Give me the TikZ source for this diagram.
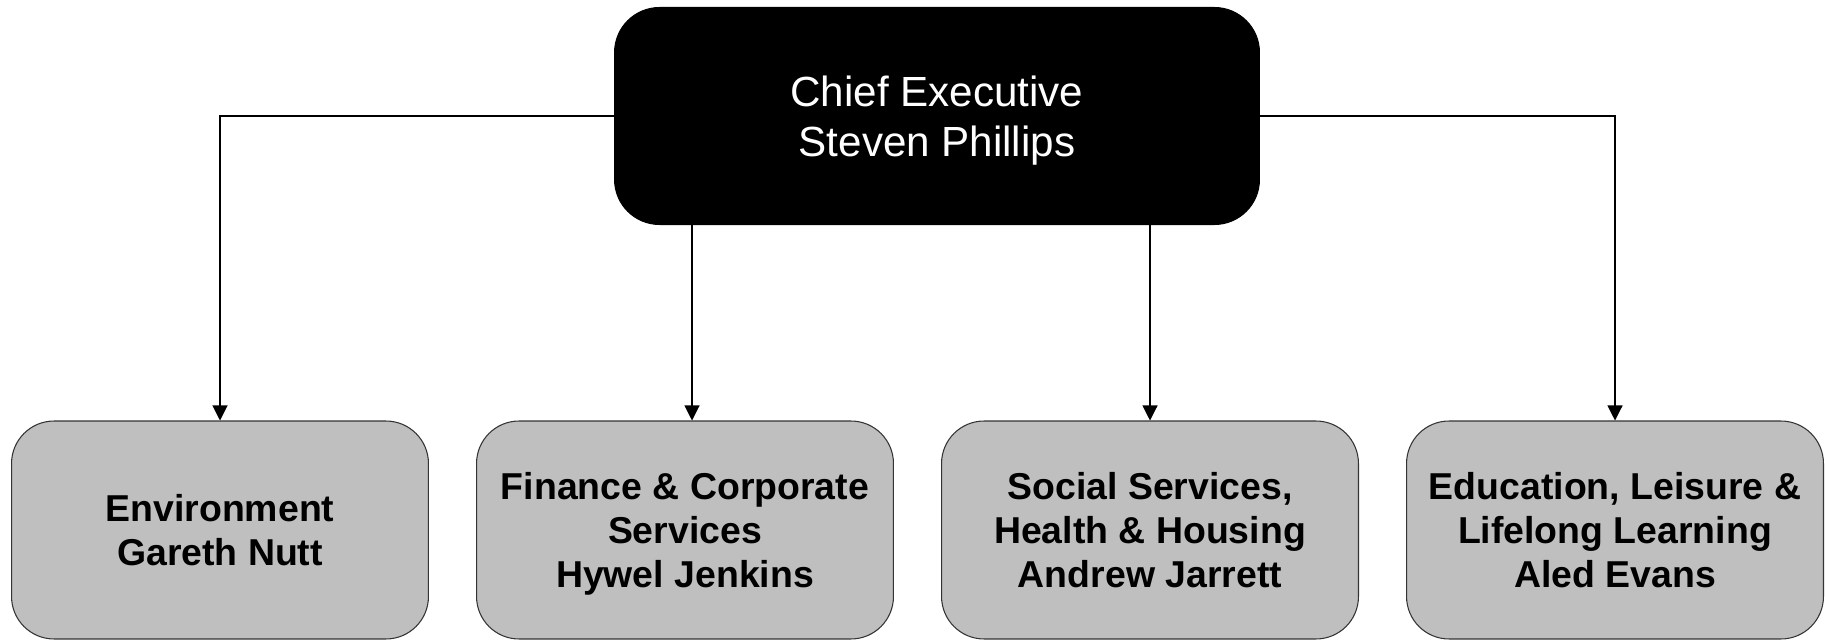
\documentclass[tikz,border=0pt]{standalone}
\usepackage{fontspec}
\setmainfont{Liberation Sans}
\usetikzlibrary{arrows.meta}

\begin{document}
\begin{tikzpicture}[x=0.02cm, y=-0.02cm, >={Triangle[length=0.3cm, width=0.3cm]}, line width=0.6pt,
		ceobox/.style={draw=black, fill=black, rounded corners=0.9cm, minimum width=12.9cm, minimum height=4.34cm, text depth=0pt, text=white, align=center, font=\fontsize{24}{28.5}\selectfont},
		deptbox/.style={draw=black!80, fill=gray!50, rounded corners=0.85cm, minimum width=8.34cm, minimum height=4.36cm, text depth=0pt, align=center, font=\fontsize{21.3}{25}\selectfont\bfseries}]
	\useasboundingbox (0,0) rectangle (1825,641);
	
	% ==================== 第一行：Chief Executive ====================
	\node[ceobox] (ceo) at (937,116) {Chief Executive\\Steven Phillips};
	
	% ==================== 第二行：Directorates ====================
	\node[deptbox] (env) at (220,530) {Environment\\Gareth Nutt};
	\node[deptbox] (fin) at (685,530) {Finance \& Corporate\\Services\\Hywel Jenkins};
	\node[deptbox] (soc) at (1150,530) {Social Services,\\Health \& Housing\\Andrew Jarrett};
	\node[deptbox] (edu) at (1615,530) {Education, Leisure \&\\Lifelong Learning\\Aled Evans};
	
	% 连线
	\draw[->] (ceo.west) -| (env.north);
	\draw[->] (ceo.east) -| (edu.north);
	\draw[->] ([xshift=0.14cm]fin.north |- ceo.south) -- ([xshift=0.14cm]fin.north);
	\draw[->] (soc.north |- ceo.south) -- (soc.north);
\end{tikzpicture}
\end{document}
